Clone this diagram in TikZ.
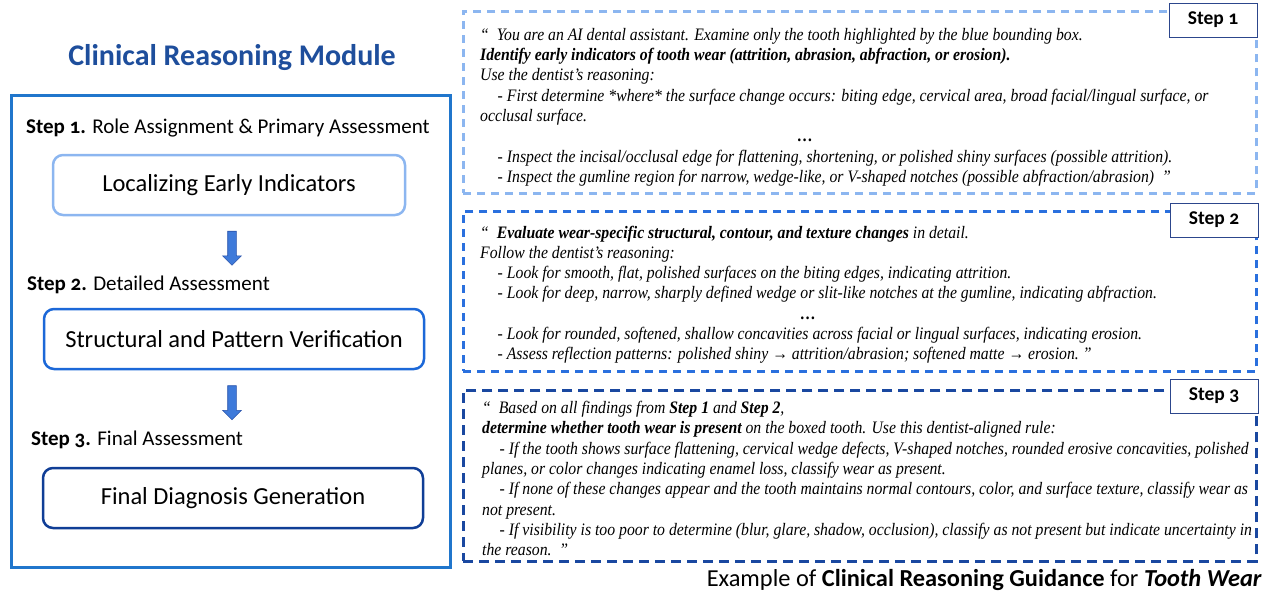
\documentclass[tikz,border=0pt]{standalone}
\usepackage{fontspec}
\setmainfont{Carlito}[Numbers=OldStyle]
\newfontfamily\promptfont{Liberation Serif}[FakeStretch=0.9]
\usetikzlibrary{shapes, arrows, positioning, fit, calc}
\usetikzlibrary{arrows.meta}

\definecolor{titleblue}{RGB}{30,78,156}
\definecolor{framecol}{RGB}{32,118,204}
\definecolor{stageone}{RGB}{140,182,240}
\definecolor{stagetwo}{RGB}{28,104,216}
\definecolor{stagethree}{RGB}{16,62,150}
\definecolor{arrowfill}{RGB}{62,122,218}
\definecolor{arrowedge}{RGB}{40,82,170}
\definecolor{promptone}{RGB}{140,182,240}
\definecolor{prompttwo}{RGB}{42,112,222}
\definecolor{promptthree}{RGB}{26,72,160}
\definecolor{tagedge}{RGB}{44,70,140}

\begin{document}
\begin{tikzpicture}[
    x=1pt, y=-1pt,
    title/.style={font=\bfseries\fontsize{30}{34}\selectfont, text=titleblue},
    steplabel/.style={font=\fontsize{21}{25}\selectfont, anchor=west, inner sep=0pt},
    stagebox/.style={draw, rounded corners=10pt, line width=2.5pt, minimum height=60pt, font=\fontsize{24.5}{28}\selectfont, fill=white},
    flowarrow/.style={single arrow, draw=arrowedge, fill=arrowfill, line width=0.6pt, minimum height=34pt, inner xsep=0pt, inner ysep=4pt, single arrow head extend=5pt, rotate=-90},
    promptframe/.style={draw, line width=2.6pt, dash pattern=on 8pt off 6pt, minimum width=793pt, anchor=north west},
    prompt/.style={anchor=north west, align=left, inner sep=0pt, font=\promptfont\itshape\fontsize{17.5}{20.3}\selectfont},
    steptag/.style={draw=tagedge, line width=0.8pt, fill=white, minimum width=88pt, minimum height=34pt, font=\bfseries\fontsize{19.5}{23}\selectfont}
]
\useasboundingbox (0,0) rectangle (1270,598);

% left column: the module and its three stages
\node [title] (modtitle) at (232,58) {Clinical Reasoning Module};
\node [draw=framecol, line width=2.5pt, minimum width=439pt, minimum height=472pt, anchor=north west] (module) at (10,94) {};

\node [steplabel] (lab1) at (26,128) {\textbf{Step 1.} Role Assignment \& Primary Assessment};
\node [stagebox, draw=stageone, minimum width=352pt] (locate) at (229,185) {Localizing Early Indicators};
\node [steplabel] (lab2) at (27,285) {\textbf{Step 2.} Detailed Assessment};
\node [stagebox, draw=stagetwo, minimum width=380pt] (verify) at (234,339) {Structural and Pattern Verification};
\node [steplabel] (lab3) at (31,440) {\textbf{Step 3.} Final Assessment};
\node [stagebox, draw=stagethree, minimum width=380pt] (final) at (233,498) {Final Diagnosis Generation};

\path ([xshift=3pt]locate.south) -- ([xshift=3pt]locate.south |- lab2.north) node [midway, flowarrow] (arrowone) {};
\path ([xshift=-2pt]verify.south) -- ([xshift=-2pt]verify.south |- lab3.north) node [midway, flowarrow] (arrowtwo) {};

% right column: the prompt given at each step
\node [promptframe, draw=promptone, minimum height=182pt] (frameone) at (462,10) {};
\node [prompt] (textone) at (480,28) {%
“\ \ You are an AI dental assistant. Examine only the tooth highlighted by the blue bounding box.\\
\textbf{Identify early indicators of tooth wear (attrition, abrasion, abfraction, or erosion).}\\
Use the dentist’s reasoning:\\
\hspace*{1em}- First determine *where* the surface change occurs: biting edge, cervical area, broad facial/lingual surface, or\\
occlusal surface.\\
\makebox[650pt]{\textbf{…}}\\
\hspace*{1em}- Inspect the incisal/occlusal edge for flattening, shortening, or polished shiny surfaces (possible attrition).\\
\hspace*{1em}- Inspect the gumline region for narrow, wedge-like, or V-shaped notches (possible abfraction/abrasion)\ \ ”};
\node [steptag] (tagone) at (1213,20) {Step 1};

\node [promptframe, draw=prompttwo, minimum height=160pt] (frametwo) at (462,210) {};
\node [prompt] (texttwo) at (480,225.5) {%
“\ \ \textbf{Evaluate wear-specific structural, contour, and texture changes} in detail.\\
Follow the dentist’s reasoning:\\
\hspace*{1em}- Look for smooth, flat, polished surfaces on the biting edges, indicating attrition.\\
\hspace*{1em}- Look for deep, narrow, sharply defined wedge or slit-like notches at the gumline, indicating abfraction.\\
\makebox[656pt]{\textbf{…}}\\
\hspace*{1em}- Look for rounded, softened, shallow concavities across facial or lingual surfaces, indicating erosion.\\
\hspace*{1em}- Assess reflection patterns: polished shiny → attrition/abrasion; softened matte → erosion.\ ”};
\node [steptag] (tagtwo) at (1214,220) {Step 2};

\node [promptframe, draw=promptthree, dash pattern=on 10pt off 6pt, minimum height=171pt] (framethree) at (462,389) {};
\node [prompt] (textthree) at (482,401) {%
“\ \ Based on all findings from \textbf{Step 1} and \textbf{Step 2},\\
\textbf{determine whether tooth wear is present} on the boxed tooth. Use this dentist-aligned rule:\\
\hspace*{1em}- If the tooth shows surface flattening, cervical wedge defects, V-shaped notches, rounded erosive concavities, polished\\
planes, or color changes indicating enamel loss, classify wear as present.\\
\hspace*{1em}- If none of these changes appear and the tooth maintains normal contours, color, and surface texture, classify wear as\\
not present.\\
\hspace*{1em}- If visibility is too poor to determine (blur, glare, shadow, occlusion), classify as not present but indicate uncertainty in\\
the reason.\ \ ”};
\node [steptag] (tagthree) at (1214,396) {Step 3};

\node [anchor=east, inner sep=0pt, font=\fontsize{24.4}{28}\selectfont] (caption) at (1262,580)
    {Example of \textbf{Clinical Reasoning Guidance} for \textbf{\itshape Tooth Wear}};

\end{tikzpicture}
\end{document}
